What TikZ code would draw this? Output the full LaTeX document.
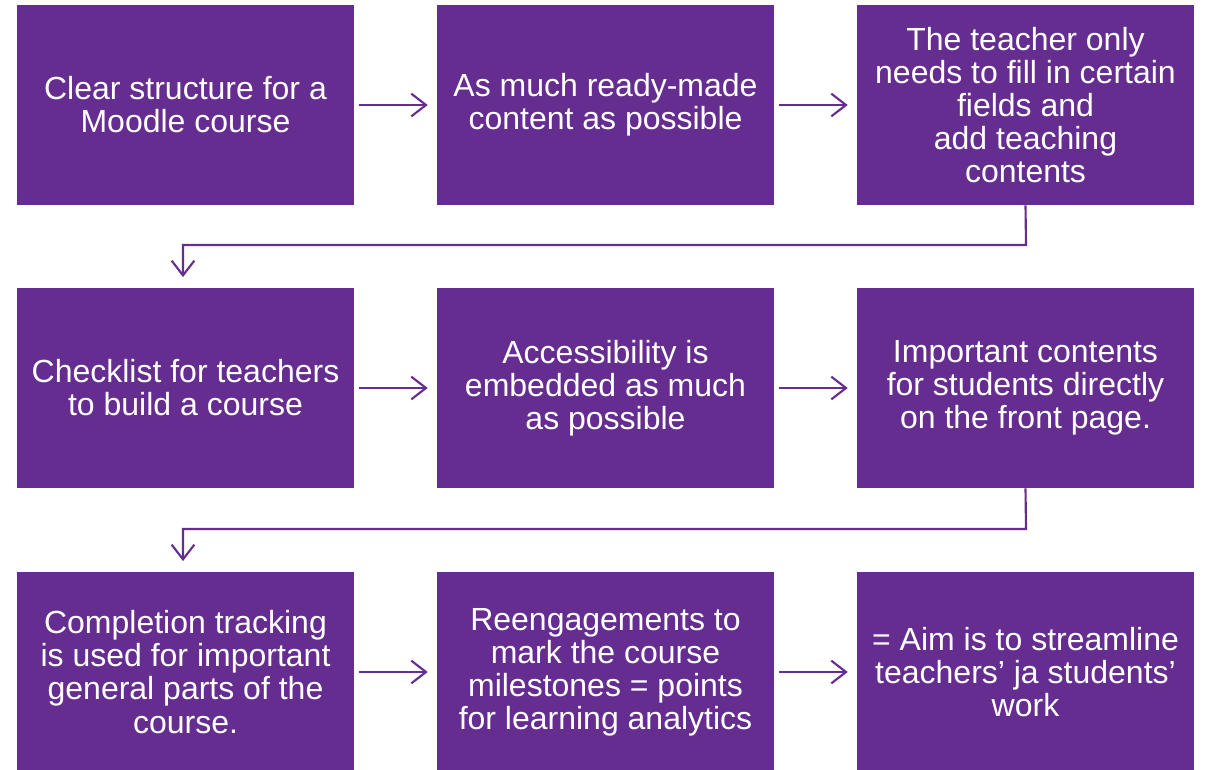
\documentclass[tikz,border=0pt]{standalone}
\usepackage{fontspec}
\setmainfont{Liberation Sans}
\usetikzlibrary{arrows.meta}
\definecolor{mpurple}{HTML}{662D91}
\begin{document}
\begin{tikzpicture}[x=0.75pt,y=-0.75pt,
  box/.style={fill=mpurple,text=white,minimum width=252.75pt,minimum height=150pt,
    inner sep=0pt,align=center,font=\fontsize{24}{24.8}\selectfont},
  conn/.style={draw=mpurple,line width=1.6pt,-{Straight Barb[length=11pt,width=17pt,line width=1.6pt]}}]
\useasboundingbox (0,0) rectangle (1206,769);
\node[box] (a1) at (185.5,105) {Clear structure for a\\Moodle course};
\node[box] (a2) at (605.5,105) {As much ready-made\\content as possible};
\node[box] (a3) at (1025.5,105) {The teacher only\\needs to fill in certain\\fields and\\add teaching\\contents};
\node[box] (b1) at (185.5,388) {Checklist for teachers\\to build a course};
\node[box] (b2) at (605.5,388) {Accessibility is\\embedded as much\\as possible};
\node[box] (b3) at (1025.5,388) {Important contents\\for students directly\\on the front page.};
\node[box] (c1) at (185.5,672) {Completion tracking\\is used for important\\general parts of the\\course.};
\node[box] (c2) at (605.5,672) {Reengagements to\\mark the course\\milestones = points\\for learning analytics};
\node[box] (c3) at (1025.5,672) {= Aim is to streamline\\teachers’ ja students’\\work};
\draw[conn] ([xshift=3.75pt]a1.east) -- ([xshift=-6.75pt]a2.west);
\draw[conn] ([xshift=3.75pt]a2.east) -- ([xshift=-6.75pt]a3.west);
\draw[conn] ([xshift=3.75pt]b1.east) -- ([xshift=-6.75pt]b2.west);
\draw[conn] ([xshift=3.75pt]b2.east) -- ([xshift=-6.75pt]b3.west);
\draw[conn] ([xshift=3.75pt]c1.east) -- ([xshift=-6.75pt]c2.west);
\draw[conn] ([xshift=3.75pt]c2.east) -- ([xshift=-6.75pt]c3.west);
\coordinate (e1) at (1026,245);
\coordinate (e2) at (183,245);
\draw[conn] (a3.south) -- (e1) -- (e2) -- ([yshift=8pt]b1.north -| e2);
\coordinate (f1) at (1026,529);
\coordinate (f2) at (183,529);
\draw[conn] (b3.south) -- (f1) -- (f2) -- ([yshift=8pt]c1.north -| f2);
\end{tikzpicture}
\end{document}
